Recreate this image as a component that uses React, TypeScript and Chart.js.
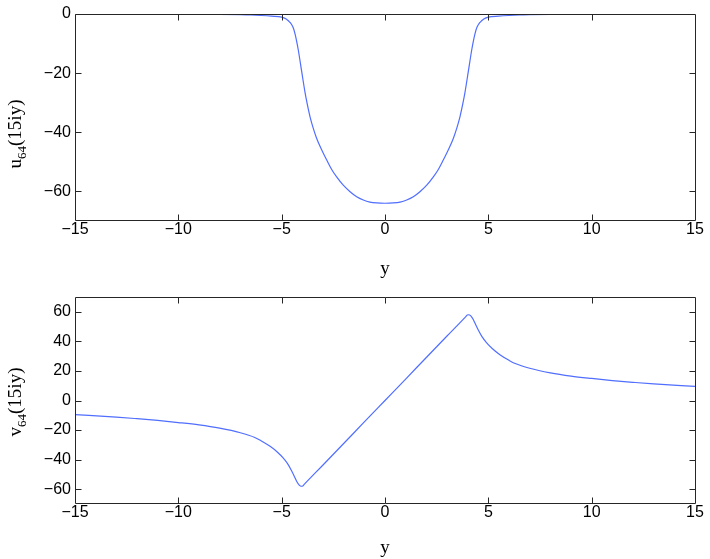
import React, { useEffect, useRef } from 'react';
import { Chart, registerables } from 'chart.js';
Chart.register(...registerables);

// ---- data ----
const uY = [-15, -12, -10, -8, -7, -6.5, -6, -5.5, -5, -4.8, -4.6, -4.45, -4.35, -4.2, -4.03, -3.87, -3.79, -3.63, -3.47, -3.31, -3.06, -2.82, -2.58, -2.34, -2.02, -1.69, -1.37, -1.05, -0.73, -0.4,
  0,
  0.4, 0.73, 1.05, 1.37, 1.69, 2.02, 2.34, 2.58, 2.82, 3.06, 3.31, 3.47, 3.63, 3.79, 3.87, 4.03, 4.2, 4.35, 4.45, 4.6, 4.8, 5, 5.5, 6, 6.5, 7, 8, 10, 12, 15];
const uValues = [-0.02, -0.04, -0.08, -0.15, -0.25, -0.34, -0.5, -0.72, -1.05, -1.6, -2.8, -4.5, -6.8, -12, -19.5, -26.5, -29.5, -34.7, -38.7, -42, -46, -49.4, -52.6, -55.1, -57.9, -60.1, -61.8, -62.9, -63.6, -63.9,
  -64,
  -63.9, -63.6, -62.9, -61.8, -60.1, -57.9, -55.1, -52.6, -49.4, -46, -42, -38.7, -34.7, -29.5, -26.5, -19.5, -12, -6.8, -4.5, -2.8, -1.6, -1.05, -0.72, -0.5, -0.34, -0.25, -0.15, -0.08, -0.04, -0.02];

const vY = [-15, -13, -12, -11, -10, -9, -8, -7, -6.3, -6, -5.56, -5.2, -4.92, -4.7, -4.52, -4.38, -4.27, -4.15, -4.05, -3.98, -3.9, -3, -2, -1,
  0,
  1, 2, 3, 3.9, 3.98, 4.05, 4.15, 4.27, 4.38, 4.52, 4.7, 4.92, 5.2, 5.56, 6, 6.3, 7, 8, 9, 10, 11, 12, 13, 15];
const vValues = [-9.5, -11.2, -12.3, -13.5, -14.9, -16.5, -18.7, -21.8, -25.0, -27.2, -31, -35, -39, -43, -47.5, -51.5, -54.8, -57.2, -58.0, -57.8, -56.6, -43.6, -29.1, -14.5,
  0,
  14.5, 29.1, 43.6, 56.6, 57.8, 58.0, 57.2, 54.8, 51.5, 47.5, 43, 39, 35, 31, 27.2, 25.0, 21.8, 18.7, 16.5, 14.9, 13.5, 12.3, 11.2, 9.5];

const xTicks = [-15, -10, -5, 0, 5, 10, 15];
const uTicks = [-60, -40, -20, 0];
const vTicks = [-60, -40, -20, 0, 20, 40, 60];

const LINE_COLOR = 'rgb(80,110,255)';
const SANS = '"Liberation Sans", Arial, sans-serif';
const SERIF = '"Liberation Serif", "Times New Roman", serif';

const fmt = (v: number) => (v < 0 ? '\u2212' + Math.abs(v) : String(v));

const boxPlugin = {
  id: 'matlabBox',
  afterDraw(chart: any) {
    const { ctx, chartArea: a, scales } = chart;
    ctx.save();
    ctx.strokeStyle = '#262626';
    ctx.lineWidth = 1;
    const L = Math.round(a.left) + 0.5;
    const R = Math.round(a.right) + 0.5;
    const T = Math.round(a.top) + 0.5;
    const B = Math.round(a.bottom) - 0.5;
    ctx.beginPath();
    ctx.rect(L, T, R - L, B - T);
    ctx.stroke();
    const len = 6;
    ctx.beginPath();
    for (const t of scales.x.ticks) {
      const px = Math.round(scales.x.getPixelForValue(t.value)) + 0.5;
      if (px <= L || px >= R) continue;
      ctx.moveTo(px, B); ctx.lineTo(px, B - len);
      ctx.moveTo(px, T); ctx.lineTo(px, T + len);
    }
    for (const t of scales.y.ticks) {
      const py = Math.round(scales.y.getPixelForValue(t.value)) + 0.5;
      if (py <= T || py >= B) continue;
      ctx.moveTo(L, py); ctx.lineTo(L + len, py);
      ctx.moveTo(R, py); ctx.lineTo(R - len, py);
    }
    ctx.stroke();
    ctx.restore();
  },
};

const yLabelPlugin = {
  id: 'yLabel',
  afterDraw(chart: any, _args: any, opts: any) {
    if (!opts || !opts.main) return;
    const { ctx } = chart;
    const big = `19px ${SERIF}`;
    const small = `13px ${SERIF}`;
    ctx.save();
    ctx.fillStyle = '#000';
    ctx.textBaseline = 'alphabetic';
    ctx.font = big;
    const w1 = ctx.measureText(opts.main).width;
    const w3 = ctx.measureText(opts.rest).width;
    ctx.font = small;
    const w2 = ctx.measureText(opts.sub).width;
    const total = w1 + w2 + w3;
    ctx.translate(opts.x, opts.y);
    ctx.rotate(-Math.PI / 2);
    let x0 = -total / 2;
    const base = 6;
    ctx.font = big;
    ctx.fillText(opts.main, x0, base);
    x0 += w1;
    ctx.font = small;
    ctx.fillText(opts.sub, x0, base + 5);
    x0 += w2;
    ctx.font = big;
    ctx.fillText(opts.rest, x0, base);
    ctx.restore();
  },
};

function makeConfig(xs: number[], ys: number[], yMin: number, yMax: number, yTickVals: number[], padTop: number, xAxisH: number, label: any, titlePadBottom: number): any {
  return {
    type: 'line',
    data: {
      datasets: [{
        data: xs.map((x, i) => ({ x, y: ys[i] })),
        borderColor: LINE_COLOR,
        borderWidth: 1.2,
        pointRadius: 0,
        fill: false,
        cubicInterpolationMode: 'monotone',
      }],
    },
    options: {
      animation: false,
      responsive: false,
      layout: { padding: { left: 0, right: 15, top: padTop, bottom: 0 } },
      plugins: {
        legend: { display: false },
        tooltip: { enabled: false },
        yLabel: label,
      },
      scales: {
        x: {
          type: 'linear',
          min: -15,
          max: 15,
          afterBuildTicks: (s: any) => { s.ticks = xTicks.map((v) => ({ value: v })); },
          afterFit: (s: any) => { s.height = xAxisH; },
          grid: { display: false, drawTicks: false },
          border: { display: false },
          ticks: { color: '#000', font: { family: SANS, size: 16 }, padding: -1, maxRotation: 0, callback: (v: any) => fmt(Number(v)) },
          title: { display: true, text: 'y', color: '#000', font: { family: SERIF, size: 19 }, padding: { top: 0, bottom: titlePadBottom } },
        },
        y: {
          type: 'linear',
          min: yMin,
          max: yMax,
          afterBuildTicks: (s: any) => { s.ticks = yTickVals.map((v) => ({ value: v })); },
          afterFit: (s: any) => { s.width = 75; },
          grid: { display: false, drawTicks: false },
          border: { display: false },
          ticks: { color: '#000', font: { family: SANS, size: 16 }, padding: 4, callback: (v: any) => fmt(Number(v)) },
        },
      },
    },
    plugins: [boxPlugin, yLabelPlugin],
  };
}

export default function App() {
  const topRef = useRef<HTMLCanvasElement | null>(null);
  const botRef = useRef<HTMLCanvasElement | null>(null);

  useEffect(() => {
    const c1 = new Chart(topRef.current as HTMLCanvasElement,
      makeConfig(uY, uValues, -70, 0, uTicks, 14, 59, { main: 'u', sub: '64', rest: '(15iy)', x: 15, y: 134 }, 0));
    const c2 = new Chart(botRef.current as HTMLCanvasElement,
      makeConfig(vY, vValues, -70, 70, vTicks, 17, 55, { main: 'v', sub: '64', rest: '(15iy)', x: 15, y: 122 }, 0));
    return () => { c1.destroy(); c2.destroy(); };
  }, []);

  return (
    <div style={{ position: 'absolute', left: 0, top: 0, width: 710, height: 559, background: '#fff' }}>
      <canvas ref={topRef} width={710} height={280} style={{ position: 'absolute', left: 0, top: 0, width: 710, height: 280 }} />
      <canvas ref={botRef} width={710} height={279} style={{ position: 'absolute', left: 0, top: 280, width: 710, height: 279 }} />
    </div>
  );
}
